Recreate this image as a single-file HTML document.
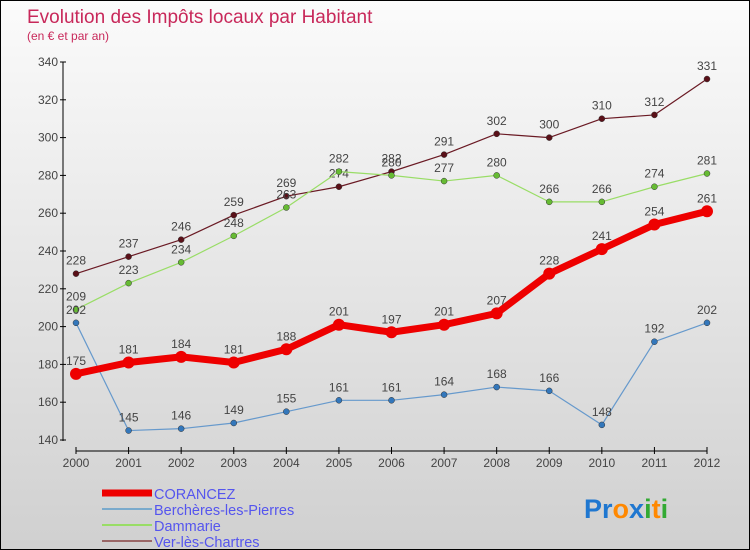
<!DOCTYPE html>
<html><head><meta charset="utf-8"><style>
body{margin:0}
#c{width:750px;height:550px;position:relative;box-sizing:border-box;border:1px solid #000;background:linear-gradient(#fbfbfb,#d0d0d0);font-family:"Liberation Sans",sans-serif;overflow:hidden}
</style></head><body>
<div id="c">
<svg id="s" width="750" height="550" style="position:absolute;left:0;top:0"></svg>
</div>
<script>
const years=[2000,2001,2002,2003,2004,2005,2006,2007,2008,2009,2010,2011,2012];
const corancez=[175,181,184,181,188,201,197,201,207,228,241,254,261];
const bercheres=[202,145,146,149,155,161,161,164,168,166,148,192,202];
const dammarie=[209,223,234,248,263,282,280,277,280,266,266,274,281];
const ver=[228,237,246,259,269,274,282,291,302,300,310,312,331];
const yTicks=[140,160,180,200,220,240,260,280,300,320,340];
const names=['CORANCEZ','Berchères-les-Pierres','Dammarie','Ver-lès-Chartres'];
const s=document.getElementById('s');const NS='http://www.w3.org/2000/svg';
function x(i){return 75+i*(706-75)/12}
function y(v){return 439-(v-140)*(378/200)}
function el(t,a,txt){const e=document.createElementNS(NS,t);for(const k in a)e.setAttribute(k,a[k]);if(txt!=null)e.textContent=txt;s.appendChild(e);return e}
let t=el('text',{x:26,y:22,'font-size':19,fill:'#c8285a'},'Evolution des Impôts locaux par Habitant');

t=el('text',{x:26,y:39,'font-size':12,fill:'#c8285a'},'(en € et par an)');

let a=el('line',{x1:62,y1:61,x2:62,y2:440,stroke:'#000'});
yTicks.forEach(v=>{el('line',{x1:59,x2:65,y1:y(v),y2:y(v),stroke:'#000'});
const l=el('text',{x:57,y:y(v)+4,'font-size':12,fill:'#444','text-anchor':'end'},v);
});
a=el('line',{x1:75,y1:450,x2:706,y2:450,stroke:'#000'});
years.forEach((yr,i)=>{el('line',{x1:x(i),x2:x(i),y1:446,y2:453,stroke:'#000'});
const l=el('text',{x:x(i),y:466,'font-size':12,fill:'#444','text-anchor':'middle'},yr);
});
const series=[[ver,'#6a1a24','#5a1018',1.2,3,'ver-les-chartres'],[dammarie,'#99dd66','#66bb33',1.2,3,'dammarie'],[bercheres,'#6699cc','#3377bb',1.2,3,'bercheres-les-pierres'],[corancez,'#ee0000','#ee0000',7,6,'corancez']];
series.forEach(([d,c,pc,w,r,n])=>{
const p=el('polyline',{points:d.map((v,i)=>x(i)+','+y(v)).join(' '),fill:'none',stroke:c,'stroke-width':w,'stroke-linejoin':'round'});

d.forEach((v,i)=>{const m=el('circle',{cx:x(i),cy:y(v),r:r,fill:pc,stroke:'#333','stroke-width':r>4?0:0.5});

const l=el('text',{x:x(i),y:y(v)-9,'font-size':12,fill:'#444','text-anchor':'middle'},v);
});
});
const lc=[['#ee0000',7],['#7aaacc',2],['#99dd66',2],['#996666',2]];
names.forEach((nm,i)=>{const yy=492+i*16;
const l=el('line',{x1:101,x2:151,y1:yy,y2:yy,stroke:lc[i][0],'stroke-width':lc[i][1]});

const tx=el('text',{x:153,y:yy+6,'font-size':14.5,fill:'#5555ee'},nm);
});
const lg=el('text',{x:583,y:517,'font-size':27,'font-weight':'bold'});

[['Pr','#1f77d0'],['o','#ff8800'],['x','#1f77d0'],['i','#33aa33'],['t','#ff8800'],['i','#33aa33']].forEach(([ch,c])=>{const ts=document.createElementNS(NS,'tspan');ts.setAttribute('fill',c);ts.textContent=ch;lg.appendChild(ts);});
</script>
</body></html>
